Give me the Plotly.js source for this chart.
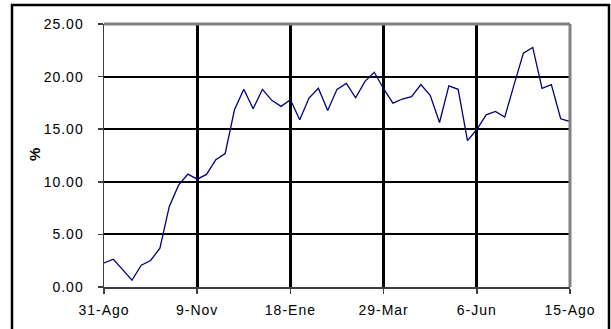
<!DOCTYPE html>
<html>
<head>
<meta charset="utf-8">
<script src="https://cdn.plot.ly/plotly-3.0.1.min.js"></script>
<style>
html,body{margin:0;padding:0;background:#fff;}
#chart{width:611px;height:329px;}
.xtick text,.ytick text{letter-spacing:1px;}
</style>
</head>
<body>
<div id="chart"></div>
<script>
// Weekly series, 51 points (index 0 = 31-Ago ... index 50 = 15-Ago)
const values = [
  2.29, 2.64, 1.65, 0.64, 2.07, 2.52, 3.69, 7.64, 9.68, 10.73,
  10.25, 10.70, 12.10, 12.68, 16.85, 18.79, 16.94, 18.79, 17.74, 17.17,
  17.80, 15.89, 17.96, 18.89, 16.78, 18.79, 19.36, 17.99, 19.55, 20.41,
  18.85, 17.48, 17.87, 18.09, 19.24, 18.22, 15.64, 19.11, 18.79, 13.92,
  14.97, 16.37, 16.69, 16.15, 19.24, 22.23, 22.77, 18.89, 19.24, 15.99,
  15.73
];
const weekIndex = values.map((v, i) => i);
const tickPositions = [0, 10, 20, 30, 40, 50];
const tickLabels = ["31-Ago", "9-Nov", "18-Ene", "29-Mar", "6-Jun", "15-Ago"];
const yTicks = [0, 5, 10, 15, 20, 25];

const W = 611, H = 329;
const mL = 104, mR = 41, mT = 24, mB = 42;
const pw = W - mL - mR, ph = H - mT - mB;
// outer frame in paper coords
const fx0 = (12 - mL) / pw, fx1 = (609 - mL) / pw;
const fy1 = (H - mB - 5) / ph, fy0 = (H - mB - 340) / ph;

const font = {family: "Liberation Sans, Arial, sans-serif", size: 14, color: "#000"};

Plotly.newPlot("chart", [{
  x: weekIndex,
  y: values,
  type: "scatter",
  mode: "lines",
  line: {color: "#000080", width: 1.3},
  hoverinfo: "skip"
}], {
  width: W, height: H,
  margin: {l: mL, r: mR, t: mT, b: mB, pad: 0},
  paper_bgcolor: "#fff",
  plot_bgcolor: "#fff",
  showlegend: false,
  font: font,
  xaxis: {
    range: [0, 50],
    tickmode: "array",
    tickvals: tickPositions,
    ticktext: tickLabels,
    showgrid: true,
    gridcolor: "#000",
    gridwidth: 3,
    zeroline: false,
    showline: true,
    linecolor: "#404040",
    linewidth: 1.5,
    ticks: "outside",
    ticklen: 5,
    tickwidth: 1.5,
    tickcolor: "#404040",
    ticklabelstandoff: 5,
    tickfont: font,
    fixedrange: true
  },
  yaxis: {
    range: [0, 25],
    tickmode: "array",
    tickvals: yTicks,
    tickformat: ".2f",
    showgrid: true,
    gridcolor: "#000",
    gridwidth: 2,
    zeroline: false,
    showline: true,
    linecolor: "#404040",
    linewidth: 1.5,
    ticks: "outside",
    ticklen: 5,
    tickwidth: 1.5,
    tickcolor: "#404040",
    ticklabelstandoff: 11,
    tickfont: font,
    fixedrange: true
  },
  annotations: [{
    text: "<b>%</b>",
    xref: "paper", yref: "paper",
    x: (34 - mL) / pw, y: (H - mB - 155) / ph,
    xanchor: "center", yanchor: "middle",
    textangle: -90,
    showarrow: false,
    font: {family: "Liberation Sans, Arial, sans-serif", size: 15, color: "#000"}
  }],
  shapes: [
    {type: "line", xref: "paper", yref: "paper", x0: 0, x1: 1, y0: 1, y1: 1,
     line: {color: "#808080", width: 3}, layer: "above"},
    {type: "line", xref: "paper", yref: "paper", x0: 1, x1: 1, y0: 0, y1: 1,
     line: {color: "#808080", width: 3}, layer: "above"},
    {type: "rect", xref: "paper", yref: "paper", x0: fx0, x1: fx1, y0: fy0, y1: fy1,
     line: {color: "#000", width: 2.5}, layer: "above"}
  ]
}, {displayModeBar: false, staticPlot: true});
</script>
</body>
</html>
